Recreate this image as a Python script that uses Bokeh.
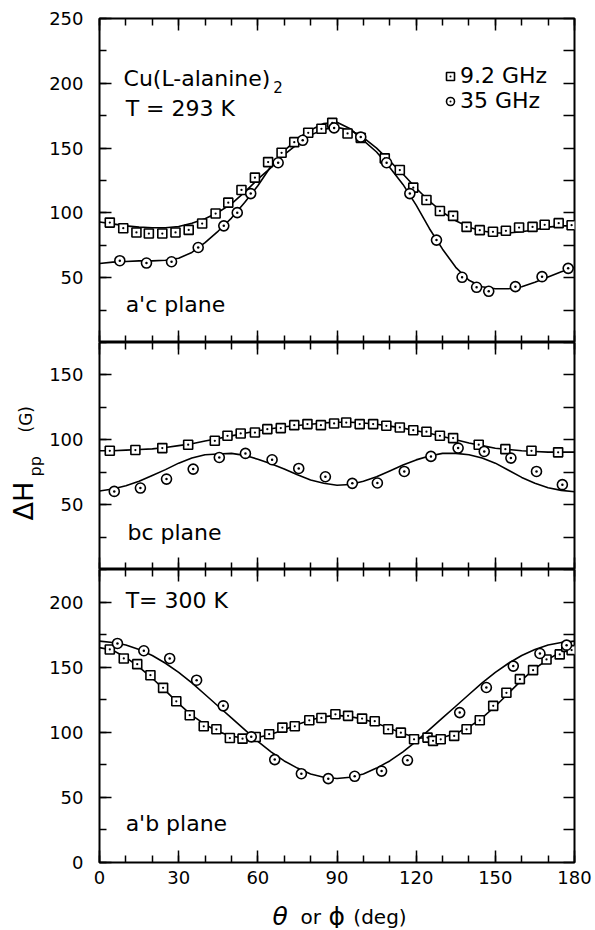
import numpy as np
from bokeh.plotting import figure
from bokeh.layouts import column, row
from bokeh.models import FixedTicker, Label, Legend, LegendItem, Range1d, LinearAxis
from bokeh.embed import file_html
from bokeh.resources import INLINE

FONT = "DejaVu Sans"

# ---------------- data ----------------
X_TICKS = [0, 30, 60, 90, 120, 150, 180]
X_MINOR = [0, 10, 20, 30, 40, 50, 60, 70, 80, 90, 100, 110, 120, 130, 140, 150, 160, 170, 180]

CURVE_X = [0, 5, 10, 15, 20, 25, 30, 35, 40, 45, 50, 55, 60, 65, 70, 75, 80, 85, 90,
           95, 100, 105, 110, 115, 120, 125, 130, 135, 140, 145, 150, 155, 160, 165, 170, 175, 180]

# a'c plane, T = 293 K
ac_sq_x = [3.9, 9.0, 14.0, 18.7, 23.8, 28.8, 33.8, 38.9, 44.0, 48.8, 53.8, 58.9, 63.9, 69.0, 73.8,
           79.1, 84.1, 88.2, 94.0, 99.0, 108.1, 113.8, 118.9, 123.9, 129.0, 134.0, 139.1, 144.1,
           149.1, 154.0, 159.0, 164.1, 168.7, 174.0, 178.9]
ac_sq_y = [92.5, 88.2, 84.9, 84.1, 84.1, 84.9, 86.9, 91.8, 99.5, 107.9, 117.7, 127.2, 139.2, 146.4,
           154.6, 161.8, 164.9, 169.5, 161.3, 157.9, 142.1, 133.1, 119.5, 110.0, 101.5, 97.7, 89.2,
           86.7, 85.4, 86.2, 88.7, 89.2, 90.8, 92.1, 90.5]
ac_ci_x = [7.7, 17.8, 27.3, 37.4, 47.1, 52.2, 57.3, 67.7, 77.0, 88.9, 99.0, 108.8, 117.6, 127.7,
           137.4, 142.9, 147.5, 157.6, 167.7, 177.6]
ac_ci_y = [63.1, 61.3, 62.3, 73.3, 90.0, 100.2, 114.9, 138.7, 156.0, 165.6, 158.5, 138.7, 114.9,
           79.0, 50.3, 42.6, 39.5, 43.1, 50.8, 57.2]
ac_fit92 = [93, 91.5, 90, 89, 88.5, 88.5, 89.5, 92, 95.5, 100.5, 107, 116, 126, 135, 145, 153, 160,
            164.5, 166, 164, 158, 150, 140, 130, 119, 109, 100.5, 94, 89, 86, 84.5, 84.5, 85.5, 87,
            89, 90, 90]
ac_fit35 = [61, 62, 62.5, 63, 63, 63.5, 65, 69.5, 77, 86, 96, 108, 121, 136, 148, 157, 164, 169,
            170, 165, 156, 147, 135, 122, 106, 88, 72, 58, 48, 43, 41.5, 41.5, 43, 46.5, 50.5,
            54.5, 58]

# bc plane
bc_sq_x = [3.9, 13.6, 23.8, 33.6, 43.7, 48.5, 53.5, 58.9, 63.6, 68.7, 73.8, 78.8, 83.9, 88.9, 93.5,
           98.6, 103.7, 108.7, 113.8, 118.9, 123.9, 129.0, 134.0, 143.7, 153.8, 163.7, 173.8]
bc_sq_y = [91.5, 92.1, 93.6, 96.2, 99.2, 103.1, 104.9, 105.6, 108.2, 109.0, 111.3, 112.1, 111.3,
           112.6, 113.3, 112.1, 112.1, 110.8, 109.5, 107.4, 106.2, 103.1, 101.3, 96.2, 92.8, 91.5,
           90.3]
bc_ci_x = [5.6, 15.5, 25.4, 35.5, 45.4, 55.3, 65.4, 75.5, 85.6, 95.8, 105.3, 115.5, 125.6, 135.9,
           145.8, 155.9, 165.6, 175.4]
bc_ci_y = [60.2, 62.8, 69.7, 77.4, 86.4, 89.5, 84.6, 77.9, 71.5, 66.4, 66.7, 75.6, 87.2, 93.6,
           91.0, 85.9, 75.6, 65.4]
bc_fit92 = [91.5, 91.5, 92, 92.5, 93, 94, 95.5, 97, 99, 101, 103, 105, 107, 108.5, 110, 111, 112,
            113, 113.5, 113.5, 113, 112, 110.5, 109, 107, 105, 102.5, 100, 97.5, 95.5, 93.5, 92.5,
            91.5, 91, 90.5, 90.5, 90.5]
bc_fit35 = [60.5, 62, 64.5, 68, 72.5, 77, 82, 86, 88.5, 89, 89.5, 88, 85, 81.5, 77.5, 73, 69, 66.5,
            65, 65.5, 68, 71.5, 76, 80.5, 84.5, 87.5, 89.5, 89.5, 88.5, 86, 82, 76.5, 71, 66.5,
            63, 61, 60]

# a'b plane, T = 300 K
ab_sq_x = [3.9, 9.2, 14.3, 19.3, 24.1, 29.1, 34.2, 39.5, 44.3, 49.4, 54.2, 59.2, 64.3, 69.3, 74.0,
           79.5, 84.1, 89.4, 94.2, 99.5, 104.3, 109.4, 114.2, 119.2, 124.3, 126.4, 129.3, 134.4,
           139.1, 144.1, 149.2, 154.2, 159.3, 164.3, 169.4, 174.4, 176.9, 178.9]
ab_sq_y = [163.6, 156.7, 152.3, 143.8, 134.1, 123.8, 113.1, 104.6, 102.3, 95.6, 95.1, 96.4, 98.5,
           103.6, 104.6, 109.2, 111.0, 113.8, 112.6, 110.5, 108.5, 102.3, 99.7, 94.6, 95.9, 93.4,
           94.6, 97.2, 102.3, 109.2, 120.3, 130.3, 140.8, 147.7, 155.9, 159.8, 165.6, 163.1]
ab_ci_x = [6.8, 16.8, 26.6, 36.8, 46.9, 57.5, 66.4, 76.5, 86.7, 96.7, 106.9, 116.7, 136.5, 146.6,
           156.8, 166.9, 177.0]
ab_ci_y = [168.2, 162.6, 156.7, 140.0, 120.3, 96.5, 79.0, 68.2, 64.4, 66.2, 70.2, 78.5, 115.1,
           134.4, 150.8, 160.5, 166.9]
ab_fit92 = [165, 163, 157.5, 150, 141.5, 132, 122, 113, 106, 100.5, 97, 95.5, 96, 98.5, 102, 106,
            109.5, 112, 113, 112, 110, 107, 103, 99, 96, 95, 96, 99, 104, 111, 120, 130, 140, 149,
            156, 162, 165]
ab_fit35 = [170, 169, 167, 163.5, 159, 153, 146, 138, 129, 120, 111, 102, 93, 85, 78, 72.5, 68,
            65.5, 64.5, 65.5, 68, 72.5, 78, 85, 93, 102, 111, 120, 129, 138, 146, 153, 159, 163.5,
            167, 169, 170]

Y1_TICKS = [50, 100, 150, 200, 250]
Y1_MINOR = [25, 50, 75, 100, 125, 150, 175, 200, 225, 250]
Y2_TICKS = [50, 100, 150]
Y2_MINOR = [25, 50, 75, 100, 125, 150, 175]
Y3_TICKS = [0, 50, 100, 150, 200]
Y3_MINOR = [0, 25, 50, 75, 100, 125, 150, 175, 200, 225]

YT_W = 45          # strip holding the vertical axis title
W = 549            # panels width
LEFT = 54
FRAME_W = 475
RIGHT = W - LEFT - FRAME_W
TOTAL_H = 928
H1, H2, H3 = 342, 227, 321


def blank_axis(ticker, tin, minor_in=0):
    return LinearAxis(ticker=ticker, major_tick_in=tin, major_tick_out=0,
                      minor_tick_in=minor_in, minor_tick_out=0,
                      major_tick_line_width=1.5, minor_tick_line_width=1.5,
                      axis_line_color=None, major_label_text_color=None,
                      major_label_standoff=0)


def make_panel(height, ymax, yt, ym, top, bottom, xlabels):
    p = figure(width=W, height=height, x_range=Range1d(0, 180), y_range=Range1d(0, ymax),
               output_backend="svg", toolbar_location=None,
               x_axis_location=None, y_axis_location=None,
               min_border_left=LEFT, min_border_right=RIGHT,
               min_border_top=top, min_border_bottom=bottom)
    p.grid.grid_line_color = None
    p.outline_line_color = "black"
    p.outline_line_width = 2
    p.border_fill_color = "white"

    xt = FixedTicker(ticks=X_TICKS, minor_ticks=X_MINOR)
    if xlabels:
        bx = LinearAxis(ticker=xt, major_tick_in=12, major_tick_out=0, minor_tick_in=7,
                        minor_tick_out=0, major_tick_line_width=1.5, minor_tick_line_width=1.5,
                        axis_line_color=None, major_label_text_font=FONT,
                        major_label_text_font_size="18px", major_label_text_color="black",
                        major_label_standoff=8)
    else:
        bx = blank_axis(xt, 12, 7)
    p.add_layout(bx, "below")
    p.add_layout(blank_axis(FixedTicker(ticks=X_TICKS, minor_ticks=X_MINOR), 12, 7), "above")

    ly = LinearAxis(ticker=FixedTicker(ticks=yt, minor_ticks=ym),
                    major_tick_in=12, major_tick_out=0, minor_tick_in=7, minor_tick_out=0,
                    major_tick_line_width=1.5, minor_tick_line_width=1.5,
                    axis_line_color=None, major_label_text_font=FONT,
                    major_label_text_font_size="18px", major_label_text_color="black",
                    major_label_standoff=16)
    p.add_layout(ly, "left")
    p.add_layout(blank_axis(FixedTicker(ticks=ym, minor_ticks=[]), 11), "right")
    return p


def add_data(p, sx, sy, cx, cy, f92, f35):
    p.line(CURVE_X, f92, line_color="black", line_width=1.6)
    p.line(CURVE_X, f35, line_color="black", line_width=1.6)
    rs = p.scatter(sx, sy, marker="square_dot", size=9, line_color="black", line_width=1.6,
                   fill_color="white")
    rc = p.scatter(cx, cy, marker="circle_dot", size=10, line_color="black", line_width=1.6,
                   fill_color="white")
    return rs, rc


def txt(p, x, y, s, size="22px", **kw):
    p.add_layout(Label(x=x, y=y, text=s, text_font=FONT, text_font_size=size,
                       text_color="black", text_baseline=kw.pop("text_baseline", "middle"),
                       text_align=kw.pop("text_align", "left"), **kw))


def plain_fig(width, height, xr, yr, left=0, right=0):
    f = figure(width=width, height=height, x_range=xr, y_range=yr,
               output_backend="svg", toolbar_location=None,
               x_axis_location=None, y_axis_location=None,
               min_border_left=left, min_border_right=right, min_border_top=0,
               min_border_bottom=0)
    f.grid.grid_line_color = None
    f.outline_line_color = None
    return f


# top panel
p1 = make_panel(H1, 250, Y1_TICKS, Y1_MINOR, 18, 0, False)
rs, rc = add_data(p1, ac_sq_x, ac_sq_y, ac_ci_x, ac_ci_y, ac_fit92, ac_fit35)
txt(p1, 9.1, 203.7, "Cu(L-alanine)")
txt(p1, 65.8, 197.0, "2", size="15px")
txt(p1, 9.9, 180.6, "T = 293 K")
txt(p1, 9.9, 29.3, "a'c plane")
legend = Legend(items=[LegendItem(label="9.2 GHz", renderers=[rs]),
                       LegendItem(label="35 GHz", renderers=[rc])],
                location=(341, 229), border_line_color=None, background_fill_alpha=0,
                padding=0, margin=0, spacing=0, glyph_width=20, glyph_height=22,
                label_standoff=0, label_height=22, label_text_font=FONT,
                label_text_font_size="22px", label_text_color="black",
                label_text_line_height=1.0)
p1.add_layout(legend)

# middle panel
p2 = make_panel(H2, 175, Y2_TICKS, Y2_MINOR, 0, 0, False)
add_data(p2, bc_sq_x, bc_sq_y, bc_ci_x, bc_ci_y, bc_fit92, bc_fit35)
txt(p2, 10.6, 28.5, "bc plane")

# bottom panel
p3 = make_panel(H3, 225, Y3_TICKS, Y3_MINOR, 0, 28, True)
add_data(p3, ab_sq_x, ab_sq_y, ab_ci_x, ab_ci_y, ab_fit92, ab_fit35)
txt(p3, 9.9, 201, "T= 300 K")
txt(p3, 9.9, 30, "a'b plane")

# x-axis title strip (same horizontal scale as the panels)
XT_H = TOTAL_H - H1 - H2 - H3
px = plain_fig(W, XT_H, Range1d(0, 180), Range1d(0, XT_H), LEFT, RIGHT)
txt(px, 65.6, 12, "\u03b8", size="25px", text_baseline="alphabetic", text_font_style="italic")
txt(px, 76.2, 12, "or", size="20px", text_baseline="alphabetic")
txt(px, 86.8, 12, "\u03d5", size="25px", text_baseline="alphabetic")
txt(px, 96.2, 12, "(deg)", size="20px", text_baseline="alphabetic")

# y-axis title strip (pixel-like coordinates, measured from bottom-left)
py = plain_fig(YT_W, TOTAL_H, Range1d(0, YT_W), Range1d(0, TOTAL_H))
txt(py, 23, TOTAL_H - 520, "\u0394H", size="27px", angle=np.pi / 2)
txt(py, 35, TOTAL_H - 476, "pp", size="16px", angle=np.pi / 2)
txt(py, 25.5, TOTAL_H - 432, "(G)", size="17px", angle=np.pi / 2)

layout = row(py, column(p1, p2, p3, px))
open("out.html", "w").write(file_html(layout, INLINE))
